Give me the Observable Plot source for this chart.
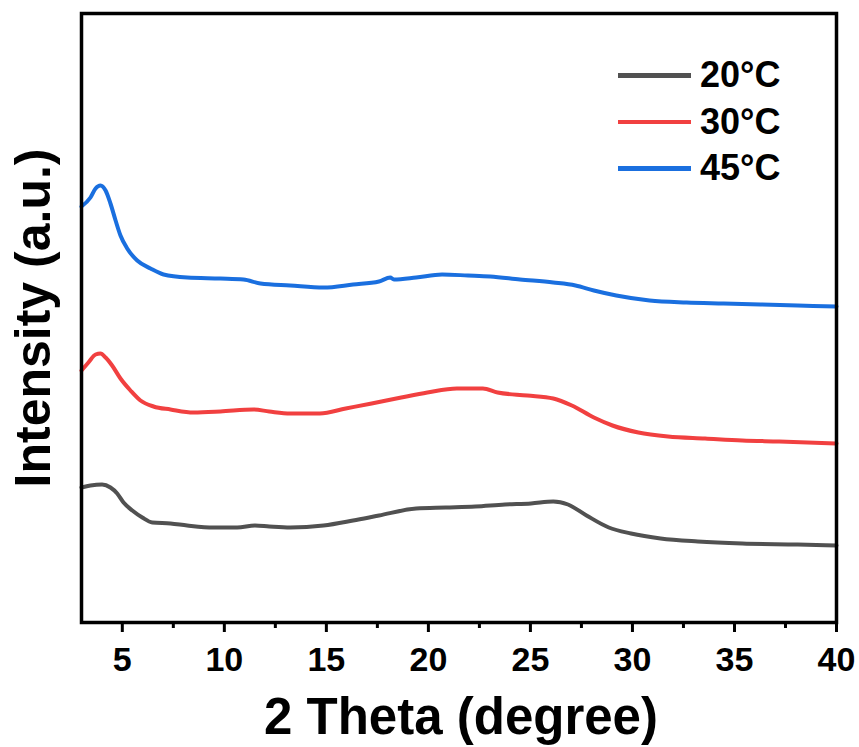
<!DOCTYPE html>
<html><head><meta charset="utf-8">
<script src="https://cdn.jsdelivr.net/npm/d3@7"></script>
<script src="https://cdn.jsdelivr.net/npm/@observablehq/plot@0.6"></script>
<style>
html,body{margin:0;padding:0;background:#fff;}
#wrap{position:relative;width:859px;height:747px;font-family:"Liberation Sans",Arial,sans-serif;}
#legend{position:absolute;left:618px;top:52px;}
.row{display:flex;align-items:center;height:46.5px;}
.sw{width:73px;height:4.5px;margin-right:9px;}
.lb{font-size:36px;font-weight:bold;line-height:1;color:#000;}
</style></head><body><div id="wrap"></div>
<script>
// ---- data ----
const seriesLabels = ["20°C", "30°C", "45°C"];
const seriesColors = ["#515151", "#F14040", "#1A6FDF"];

const theta20 = [3.0, 3.44, 4.01, 4.42, 4.75, 5.06, 5.49, 5.98, 6.47, 7.36, 8.18, 9.47, 10.63, 11.5, 12.2, 13.23, 14.86, 16.31, 17.58, 19.4, 20.85, 22.3, 23.75, 25.03, 26.12, 26.84, 27.75, 28.84, 29.93, 31.38, 33.2, 35.38, 38.1, 40.0];
const int20   = [135, 137, 138, 135, 129, 120, 112, 105, 100, 99, 97, 95, 95, 97, 96, 95, 97, 102, 107, 114, 115, 116, 118, 119, 121, 118, 107, 95, 89, 84, 81, 79, 78, 77];

const theta30 = [3.0, 3.34, 3.69, 3.93, 4.18, 4.5, 4.91, 5.4, 5.89, 6.53, 7.36, 8.49, 9.81, 11.43, 12.2, 13.23, 14.68, 15.95, 17.22, 18.67, 19.95, 21.4, 22.67, 23.39, 24.85, 26.12, 27.03, 28.11, 29.02, 30.29, 31.74, 33.56, 35.38, 37.19, 40.0];
const int30   = [252, 260, 268, 269, 265, 257, 244, 232, 222, 216, 213, 210, 211, 213, 211, 209, 209, 214, 219, 225, 230, 234, 234, 230, 227, 224, 217, 205, 197, 190, 186, 184, 182, 181, 179];

const theta45 = [3.0, 3.44, 3.69, 3.93, 4.18, 4.42, 4.67, 4.91, 5.24, 5.73, 6.38, 7.02, 8.18, 9.81, 10.94, 11.77, 13.23, 14.86, 16.31, 17.58, 18.13, 18.31, 19.4, 20.67, 21.94, 23.03, 24.49, 26.12, 27.21, 28.11, 29.21, 30.84, 32.65, 34.47, 36.28, 38.1, 40.0];
const int45   = [416, 425, 434, 437, 432, 419, 402, 387, 374, 362, 354, 348, 345, 344, 343, 339, 337, 335, 338, 341, 345, 343, 345, 348, 347, 346, 343, 340, 337, 332, 327, 322, 320, 319, 318, 317, 316];

const majorTicks = [5, 10, 15, 20, 25, 30, 35, 40];
const minorTicks = [7.5, 12.5, 17.5, 22.5, 27.5, 32.5, 37.5];
const xTitle = "2 Theta (degree)";
const yTitle = "Intensity (a.u.)";

// ---- build table ----
const rows = [];
[[theta20, int20], [theta30, int30], [theta45, int45]].forEach(([t, v], i) => {
  t.forEach((x, j) => rows.push({series: seriesLabels[i], theta: x, intensity: v[j]}));
});

const font = "Liberation Sans, Arial, sans-serif";
const chart = Plot.plot({
  width: 859, height: 747,
  marginLeft: 81, marginRight: 23, marginTop: 13, marginBottom: 125,
  style: {fontFamily: font, background: "white", color: "black"},
  x: {domain: [3, 40], label: null},
  y: {domain: [0, 609], axis: null, label: null},
  color: {domain: seriesLabels, range: seriesColors},
  marks: [
    Plot.line(rows, {x: "theta", y: "intensity", z: "series", stroke: "series", strokeWidth: 4, curve: "monotone-x"}),
    Plot.axisX(minorTicks, {tickSize: 6, strokeWidth: 3, tickFormat: () => "", label: null}),
    Plot.axisX(majorTicks, {tickSize: 10, tickPadding: 14, strokeWidth: 3, fontSize: 34, fontWeight: "bold", label: null}),
    Plot.frame({stroke: "black", strokeWidth: 3.5}),
    Plot.text([xTitle], {frameAnchor: "bottom", dy: 111, dx: 2, fontSize: 51, fontWeight: "bold", lineAnchor: "bottom", textAnchor: "middle", fill: "black"}),
    Plot.text([yTitle], {frameAnchor: "left", rotate: -90, dx: -32, fontSize: 50, fontWeight: "bold", lineAnchor: "bottom", textAnchor: "middle", fill: "black"})
  ]
});
const wrap = document.getElementById("wrap");
wrap.appendChild(chart);

// legend
const lg = document.createElement("div");
lg.id = "legend";
seriesLabels.forEach((s, i) => {
  const r = document.createElement("div"); r.className = "row";
  const sw = document.createElement("div"); sw.className = "sw"; sw.style.background = seriesColors[i];
  const lb = document.createElement("div"); lb.className = "lb"; lb.textContent = s;
  r.appendChild(sw); r.appendChild(lb); lg.appendChild(r);
});
wrap.appendChild(lg);
</script>
</body></html>
